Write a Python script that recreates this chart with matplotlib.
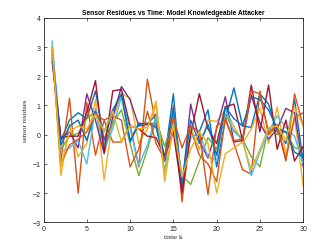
import numpy as np
import matplotlib
matplotlib.use("Agg")
import matplotlib.pyplot as plt

k = np.arange(1, 31)

# residues per sensor
r1 = [3.0, -0.2, 0.5, 0.75, 0.55, 1.5, -0.2, 0.8, 1.35, -0.2, 0.4, 0.35, 0.7, -0.8, 1.4,
      -1.9, 0.3, 0.1, 0.85, -1.1, 0.5, 1.6, 0.3, 0.25, 1.4, 1.05, 0.1, -0.3, 1.2, -0.9]
r2 = [2.9, -0.9, 1.25, -2.0, 1.1, -0.7, 0.5, -0.25, -0.25, 0.35, -1.1, 1.9, 0.3, -0.9, 1.0,
      -2.3, 0.2, -0.7, -1.0, -1.6, 0.6, -0.3, -1.2, -1.35, 1.5, 0.0, 0.3, -0.9, 1.4, 0.3]
r3 = [3.1, -1.4, 0.35, -0.75, -0.3, 1.2, -1.55, 0.5, 1.4, 1.25, -0.3, 0.2, 1.15, -1.6, 0.3,
      -1.6, 0.25, -0.5, 0.5, 0.45, 0.85, 0.3, -0.3, 0.2, 0.9, -0.3, 0.95, -0.7, 0.6, -1.75]
r4 = [2.6, -0.15, 0.1, -0.45, 1.4, 0.5, -0.65, 0.6, 1.65, 1.2, 0.3, 0.35, 0.4, -0.8, 0.2,
      -1.8, 1.05, -0.2, -0.8, 0.2, 1.3, -0.25, -0.2, 1.35, 0.4, -0.15, 0.2, 0.9, 0.75, -1.1]
r5 = [2.8, -0.5, -0.05, 0.05, 0.55, 0.8, -0.35, 0.4, 0.85, -0.3, -1.4, -0.5, 0.5, -0.4, 0.5,
      -1.4, -1.7, -0.9, -0.1, -0.5, 0.7, 0.15, -0.15, -0.75, -1.1, 0.25, 0.0, 0.1, -0.45, -0.5]
r6 = [3.2, -0.6, -0.45, -0.2, -1.0, 0.9, -0.5, 0.2, 1.3, 0.2, -1.05, -0.35, 0.65, -1.25, 0.9,
      -1.55, -0.1, 0.05, -0.75, -0.9, 0.9, 0.1, -0.15, -1.4, -0.6, 0.1, 0.65, 0.25, -0.05, -1.0]
r7 = [2.5, -0.1, -0.05, -0.05, 0.75, 1.85, -0.6, 1.5, 1.55, 0.3, 0.2, -0.05, -0.1, -0.75, 0.1,
      -2.0, 0.0, 1.4, 0.2, -0.3, 0.95, 1.05, -0.2, 1.7, 0.1, 1.7, -0.5, 0.5, -0.9, -0.4]
r8 = [2.7, -0.35, 0.3, 0.5, -0.2, 0.8, 0.1, 0.85, 1.4, -0.25, 0.35, 0.4, 0.25, -0.9, 0.9,
      -1.65, 0.5, -0.3, 0.35, -0.7, 0.95, 0.55, 0.3, 1.3, 1.2, 0.85, 0.2, 0.1, -0.6, -0.75]
r9 = [2.9, -1.0, -0.35, -0.15, 0.1, 0.7, 0.5, 0.65, 0.5, -1.1, -0.5, 0.8, -0.3, -0.85, 0.6,
      -0.45, 0.3, 0.1, -2.05, 0.3, 0.5, -0.2, -0.15, 1.5, 1.4, 0.05, 0.35, -0.85, 0.6, 0.75]
r10 = [3.0, -1.1, 0.1, 0.3, 0.2, 0.7, 0.1, 0.8, -0.25, 0.3, 0.2, 0.25, 1.0, -1.4, 0.3,
       -1.45, -0.5, 0.1, -0.3, -2.0, -0.65, -0.45, -0.25, -1.2, -0.5, 0.25, 0.3, -0.2, 0.95, 0.3]

residues = [r1, r2, r3, r4, r5, r6, r7, r8, r9, r10]

# matlab default colour order
colors = ['#0072BD', '#D95319', '#EDB120', '#7E2F8E', '#77AC30', '#4DBEEE', '#A2142F']

fig = plt.figure(figsize=(3.35, 2.51), dpi=100)
ax = fig.add_axes([0.13, 0.11, 0.775, 0.815])

for i, r in enumerate(residues):
    ax.plot(k, r, color=colors[i % len(colors)], lw=1.0)

ax.set_xlim(0, 30)
ax.set_ylim(-3, 4)
ax.set_xticks(range(0, 31, 5))
ax.set_yticks(range(-3, 5))

grey = '#262626'
for s in ax.spines.values():
    s.set_color(grey)
    s.set_linewidth(0.6)
ax.tick_params(direction='in', length=2.5, width=0.5, top=True, right=True,
               labelsize=5, colors=grey, pad=2)
for t in ax.get_xticklabels() + ax.get_yticklabels():
    t.set_family('Liberation Sans')

ax.set_title('Sensor Residues vs Time: Model Knowledgeable Attacker',
             fontsize=4.8, fontweight='bold', family='Liberation Sans', pad=3)
ax.set_xlabel('time k', fontsize=5.2, family='Liberation Serif', color=grey, labelpad=1.5)
ax.set_ylabel('sensor residues', fontsize=5.0, family='Liberation Serif', color=grey, labelpad=3.5)

fig.savefig('out.png', dpi=100)
